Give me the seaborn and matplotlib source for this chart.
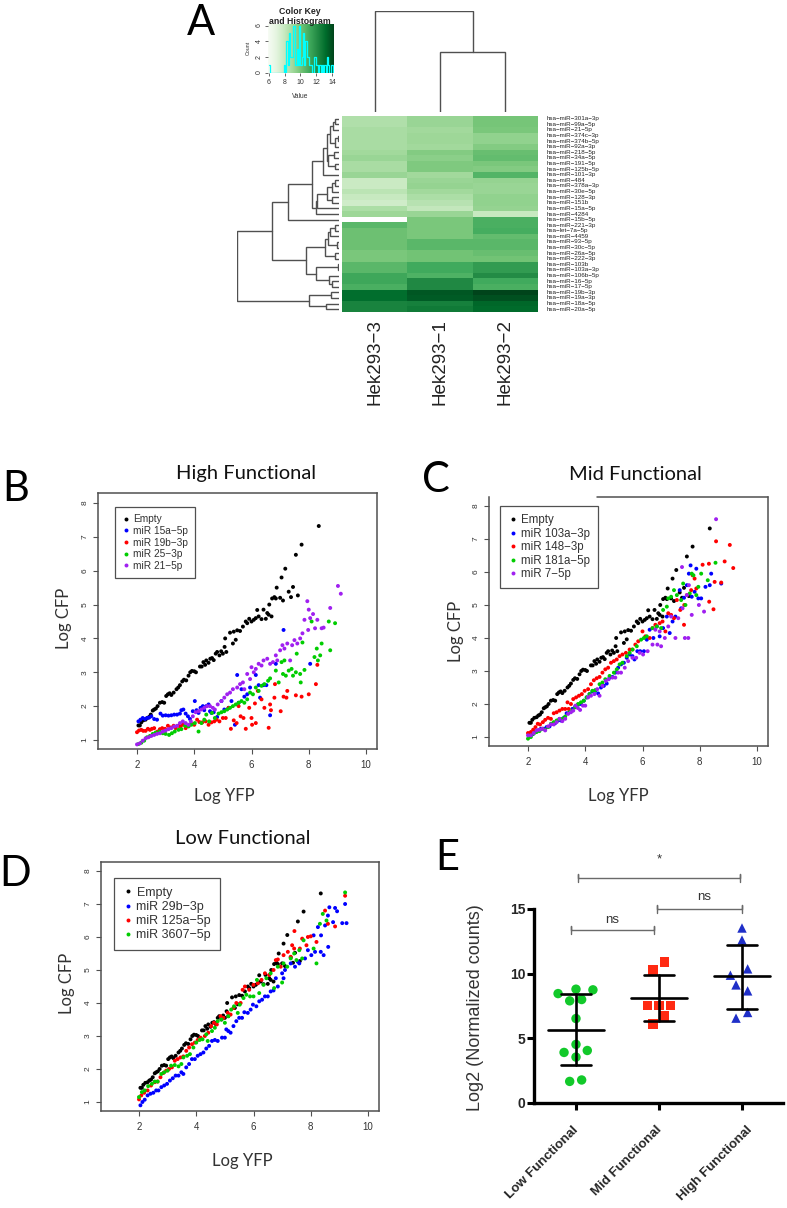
import numpy as np
import pandas as pd
import matplotlib
matplotlib.use("Agg")
import matplotlib.pyplot as plt
from matplotlib.transforms import ScaledTranslation
import seaborn as sns

W, H = 787, 1208

# --- panel A data ---
SAMPLES = ["Hek293\u22123", "Hek293\u22121", "Hek293\u22122"]
MIRNAS = ["miR-301a-3p", "miR-99a-5p", "miR-21-5p", "miR-374c-3p", "miR-374b-5p", "miR-92a-3p", "miR-218-5p",
          "miR-34a-5p", "miR-191-5p", "miR-125b-5p", "miR-101-3p", "miR-484", "miR-378a-3p", "miR-30e-5p",
          "miR-128-3p", "miR-151b", "miR-15a-5p", "miR-4284", "miR-15b-5p", "miR-221-3p", "let-7a-5p",
          "miR-4459", "miR-93-5p", "miR-30c-5p", "miR-26a-5p", "miR-222-3p", "miR-103b", "miR-103a-3p",
          "miR-106b-5p", "miR-16-5p", "miR-17-5p", "miR-19b-3p", "miR-19a-3p", "miR-18a-5p", "miR-20a-5p"]
HEK3 = [8.6, 8.6, 8.8, 8.8, 8.8, 8.8, 9.0, 9.2, 8.8, 8.8, 9.2, 7.9, 7.9, 8.3, 8.0, 7.7, 8.7, 9.1, np.nan, 10.6,
        10.2, 10.2, 10.2, 10.2, 9.9, 9.9, 10.6, 10.6, 11.2, 11.2, 10.9, 13.1, 13.1, 12.4, 12.4]
HEK1 = [9.2, 9.2, 9.0, 9.1, 9.1, 9.0, 9.7, 9.5, 9.8, 9.8, 9.0, 9.2, 9.3, 9.0, 8.7, 8.4, 8.1, 9.2, 9.9, 9.9,
        9.9, 9.9, 10.6, 10.6, 10.1, 10.1, 11.1, 11.1, 10.8, 12.2, 12.2, 13.7, 13.6, 12.5, 12.7]
HEK2 = [10.0, 10.0, 9.9, 9.4, 9.4, 9.7, 10.3, 10.4, 9.9, 9.7, 10.7, 9.3, 9.2, 9.2, 9.4, 9.4, 9.3, 8.0, 10.9, 10.9,
        11.0, 10.4, 10.6, 10.6, 10.3, 10.1, 11.6, 11.6, 12.1, 11.1, 10.9, 14.2, 13.9, 13.3, 13.2]

# dendrograms: (height, left, right), 0 is a leaf
COL_TREE = (101, 0, (60, 0, 0))
ROW_TREE = (102,
            (67,
             (51,
              (27.3,
               (15.7,
                (12.3,
                 (8.7, (5.7, (3.7, 0, 0), 0), (4, (1, 0, 0), 0)),
                 (10.7, (4.7, 0, 0), (3.7, 0, 0))),
                0),
               (23, (22, (12.3, (7.3, (3.7, 0, 0), 0), (7, 0, 0)), 0), 0)),
              0),
             (33,
              (14, (11.5, (9, (4, 0, 0), 0), (2.5, 0, 0)), (4, 0, 0)),
              (23, (1.3, 0, 0), (10, 0, (7.5, 0, 0))))),
            (29.7, (8, 0, 0), (13, 0, 0)))

HIST_LEFT = [6.00, 6.16, 7.92, 8.08, 8.24, 8.40, 8.56, 8.72, 8.88, 9.04, 9.20, 9.36, 9.52, 9.68, 9.84, 10.00, 10.16,
             10.32, 10.48, 10.64, 10.80, 10.96, 11.12, 11.28, 11.44, 11.60, 11.76, 11.92, 12.08, 12.24, 12.40, 12.56,
             12.72, 12.88, 13.04, 13.20, 13.36, 13.52, 13.68, 13.84, 14.00, 14.16]
HIST_COUNT = [1, 0, 1, 0, 4, 1, 5, 2, 2, 6, 6, 1, 3, 1, 6, 1, 2, 5, 1, 4, 2, 2, 1, 1, 0, 0, 2, 1, 1, 0, 1, 0,
              1, 0, 1, 0, 2, 1, 0, 1, 1, 0]

# --- scatter data ---
EMPTY = [(2.05, 1.43), (2.1, 1.43), (2.15, 1.52), (2.22, 1.58), (2.3, 1.6), (2.36, 1.65), (2.42, 1.68), (2.48, 1.75),
         (2.55, 1.87), (2.6, 1.9), (2.66, 1.93), (2.72, 2.0), (2.8, 2.1), (2.88, 2.12), (2.95, 2.1), (3.02, 2.3),
         (3.08, 2.35), (3.14, 2.38), (3.2, 2.33), (3.28, 2.4), (3.38, 2.5), (3.44, 2.55), (3.5, 2.62), (3.58, 2.73),
         (3.64, 2.78), (3.72, 2.76), (3.8, 2.9), (3.86, 3.0), (3.92, 3.04), (4.0, 3.03), (4.06, 3.0), (4.2, 3.17),
         (4.26, 3.17), (4.32, 3.3), (4.38, 3.22), (4.42, 3.35), (4.5, 3.28), (4.56, 3.4), (4.62, 3.42), (4.68, 3.36),
         (4.75, 3.55), (4.8, 3.6), (4.88, 3.5), (4.94, 3.62), (5.0, 3.55), (5.06, 3.75), (5.08, 4.0), (5.12, 3.6),
         (5.25, 4.17), (5.35, 3.85), (5.38, 4.2), (5.45, 3.96), (5.5, 4.24), (5.6, 4.22), (5.7, 4.35), (5.8, 4.5),
         (5.85, 4.45), (5.92, 4.58), (6.0, 4.5), (6.08, 4.55), (6.15, 4.6), (6.2, 4.84), (6.25, 4.65), (6.35, 4.57),
         (6.42, 4.85), (6.5, 4.58), (6.55, 4.75), (6.6, 4.7), (6.7, 4.65), (6.62, 5.0), (6.72, 5.18), (6.8, 5.22),
         (6.85, 5.18), (6.88, 5.5), (7.0, 5.2), (7.05, 5.8), (7.1, 5.12), (7.18, 6.06), (7.3, 5.38), (7.38, 5.22),
         (7.45, 5.52), (7.55, 6.47), (7.62, 5.27), (7.75, 6.77), (8.35, 7.32)]

B_15A = [(2.05, 1.55), (2.12, 1.6), (2.2, 1.65), (2.28, 1.62), (2.35, 1.65), (2.42, 1.66), (2.5, 1.7), (2.6, 1.62),
         (2.7, 1.6), (2.82, 1.78), (2.9, 1.72), (3.0, 1.73), (3.1, 1.72), (3.2, 1.73), (3.3, 1.75), (3.4, 1.75),
         (3.5, 1.78), (3.55, 1.88), (3.62, 1.9), (3.7, 1.78), (3.78, 1.7), (3.85, 1.62), (3.95, 1.85), (4.02, 2.15),
         (4.08, 1.88), (4.15, 1.8), (4.22, 1.95), (4.3, 2.0), (4.35, 1.88), (4.42, 2.0), (4.5, 2.05), (4.55, 1.85),
         (4.6, 1.8), (4.68, 1.82), (4.8, 1.68), (4.95, 2.15), (5.05, 1.9), (5.2, 1.95), (5.3, 2.15), (5.42, 1.45),
         (5.5, 2.92), (5.55, 2.1), (5.65, 2.5), (5.75, 2.28), (5.85, 2.35), (5.95, 2.55), (6.15, 2.92), (6.25, 2.62),
         (6.3, 2.25), (6.42, 2.62), (6.52, 2.62), (6.65, 1.73), (6.85, 3.25), (7.12, 4.25), (8.05, 3.25)]
B_19B = [(2.0, 1.23), (2.07, 1.28), (2.15, 1.3), (2.22, 1.27), (2.3, 1.27), (2.38, 1.33), (2.45, 1.3), (2.52, 1.33),
         (2.6, 1.35), (2.72, 1.25), (2.8, 1.32), (2.88, 1.35), (2.98, 1.33), (3.08, 1.42), (3.18, 1.37), (3.28, 1.42),
         (3.35, 1.35), (3.45, 1.42), (3.52, 1.4), (3.6, 1.45), (3.7, 1.35), (3.8, 1.42), (3.9, 1.48), (4.0, 1.45),
         (4.1, 1.6), (4.18, 1.53), (4.28, 1.52), (4.4, 1.55), (4.5, 1.45), (4.6, 1.52), (4.7, 1.55), (4.78, 1.6),
         (4.88, 1.55), (5.0, 1.65), (5.1, 1.65), (5.2, 1.95), (5.28, 1.33), (5.38, 1.58), (5.48, 1.5), (5.55, 2.0),
         (5.62, 1.7), (5.72, 1.65), (5.8, 1.33), (5.92, 1.95), (6.0, 1.65), (6.02, 1.45), (6.15, 1.5), (6.12, 2.08),
         (6.22, 2.45), (6.35, 2.2), (6.45, 1.95), (6.6, 1.36), (6.65, 2.05), (6.68, 1.88), (6.8, 2.25), (6.82, 2.65),
         (7.02, 1.85), (7.12, 2.28), (7.22, 2.25), (7.25, 2.45), (7.55, 2.32), (7.75, 2.28), (8.0, 2.35), (8.25, 2.65),
         (8.3, 3.22)]
B_25 = [(2.05, 0.88), (2.15, 0.92), (2.25, 0.98), (2.35, 1.08), (2.45, 1.12), (2.55, 1.18), (2.65, 1.22), (2.78, 1.25),
        (2.9, 1.2), (3.0, 1.18), (3.12, 1.15), (3.22, 1.2), (3.32, 1.25), (3.45, 1.3), (3.55, 1.32), (3.68, 1.42),
        (3.8, 1.4), (3.9, 1.45), (4.02, 1.5), (4.15, 1.25), (4.25, 1.5), (4.35, 1.6), (4.42, 1.75), (4.52, 1.55),
        (4.62, 1.8), (4.72, 1.65), (4.85, 1.78), (4.95, 1.82), (5.05, 1.85), (5.15, 1.9), (5.25, 1.95), (5.35, 2.0),
        (5.45, 2.05), (5.55, 2.1), (5.65, 2.15), (5.75, 2.1), (5.85, 2.2), (5.95, 2.4), (6.05, 2.35), (6.15, 2.55),
        (6.25, 2.45), (6.35, 2.6), (6.45, 2.65), (6.58, 2.75), (6.65, 2.82), (6.85, 3.05), (6.95, 2.7), (7.05, 3.3),
        (7.1, 2.95), (7.15, 3.35), (7.2, 2.9), (7.3, 3.05), (7.4, 3.1), (7.45, 2.9), (7.55, 3.0), (7.58, 3.55),
        (7.7, 2.95), (7.72, 2.7), (7.78, 3.88), (7.85, 3.07), (8.1, 4.5), (8.2, 3.45), (8.28, 3.7), (8.32, 3.35),
        (8.4, 3.5), (8.45, 3.85), (8.7, 4.5), (8.75, 3.65), (8.92, 4.45)]
B_21 = [(2.0, 0.87), (2.1, 0.9), (2.2, 0.98), (2.3, 1.05), (2.4, 1.08), (2.5, 1.12), (2.6, 1.15), (2.7, 1.18),
        (2.8, 1.2), (2.9, 1.25), (3.0, 1.28), (3.1, 1.32), (3.2, 1.35), (3.3, 1.4), (3.4, 1.42), (3.5, 1.5),
        (3.6, 1.55), (3.7, 1.5), (3.8, 1.45), (3.88, 1.55), (3.95, 1.7), (4.05, 1.82), (4.15, 1.85), (4.25, 1.9),
        (4.35, 1.95), (4.45, 2.0), (4.55, 2.0), (4.65, 1.95), (4.72, 1.9), (4.82, 2.05), (4.95, 2.15), (5.05, 2.25),
        (5.15, 2.35), (5.25, 2.4), (5.35, 2.5), (5.5, 2.55), (5.6, 2.65), (5.7, 2.7), (5.75, 2.5), (5.85, 2.95),
        (5.95, 2.8), (6.0, 3.15), (6.08, 3.0), (6.15, 3.1), (6.25, 3.25), (6.35, 3.2), (6.42, 3.35), (6.55, 3.4),
        (6.65, 3.25), (6.75, 3.3), (6.85, 3.5), (6.9, 3.35), (7.0, 3.65), (7.08, 3.8), (7.15, 3.7), (7.25, 3.85),
        (7.35, 3.35), (7.42, 3.8), (7.5, 3.95), (7.6, 3.85), (7.7, 4.0), (7.78, 4.15), (7.85, 4.55), (7.95, 5.1),
        (7.98, 4.25), (8.0, 4.85), (8.05, 4.6), (8.15, 4.72), (8.22, 4.3), (8.3, 4.55), (8.45, 4.3), (8.52, 4.32),
        (8.75, 4.9), (9.02, 5.55), (9.12, 5.32)]

C_103A = [(2.05, 1.05), (2.15, 1.08), (2.25, 1.15), (2.35, 1.2), (2.45, 1.25), (2.55, 1.25), (2.65, 1.3), (2.75, 1.32),
          (2.85, 1.4), (2.95, 1.42), (3.05, 1.5), (3.15, 1.5), (3.25, 1.58), (3.35, 1.72), (3.45, 1.75), (3.55, 1.85),
          (3.65, 1.92), (3.75, 1.98), (3.85, 2.0), (3.95, 2.1), (4.05, 2.2), (4.15, 2.3), (4.25, 2.38), (4.35, 2.4),
          (4.45, 2.32), (4.55, 2.5), (4.65, 2.55), (4.75, 2.62), (4.85, 2.8), (4.95, 2.82), (5.05, 2.95), (5.15, 3.1),
          (5.25, 3.2), (5.35, 3.25), (5.45, 3.4), (5.55, 3.5), (5.65, 3.45), (5.72, 3.35), (5.82, 3.6), (5.92, 3.6),
          (6.05, 3.6), (6.15, 3.95), (6.25, 4.25), (6.38, 4.0), (6.5, 4.35), (6.6, 4.05), (6.72, 4.3), (6.85, 4.65),
          (6.95, 4.15), (7.05, 4.5), (7.15, 4.65), (7.3, 5.45), (7.35, 4.9), (7.45, 5.22), (7.55, 5.6), (7.62, 5.95),
          (7.68, 6.2), (7.72, 5.25), (7.82, 5.4), (7.88, 6.1), (7.95, 5.2), (8.05, 5.2), (8.2, 5.55), (8.35, 5.6),
          (8.4, 5.95), (8.75, 5.65)]
C_148 = [(2.0, 1.12), (2.1, 1.15), (2.18, 1.22), (2.26, 1.3), (2.34, 1.4), (2.42, 1.38), (2.52, 1.45), (2.6, 1.52),
         (2.7, 1.58), (2.8, 1.55), (2.9, 1.72), (3.0, 1.75), (3.1, 1.8), (3.2, 1.85), (3.3, 1.85), (3.38, 2.05),
         (3.42, 1.85), (3.5, 2.0), (3.58, 2.15), (3.68, 2.2), (3.78, 2.25), (3.88, 2.3), (3.98, 2.4), (4.1, 2.45),
         (4.2, 2.6), (4.3, 2.72), (4.4, 2.78), (4.5, 2.82), (4.6, 2.95), (4.7, 3.05), (4.8, 3.1), (4.9, 3.25),
         (5.0, 3.3), (5.1, 3.35), (5.2, 3.45), (5.3, 3.5), (5.42, 3.55), (5.55, 3.65), (5.65, 3.65), (5.75, 3.8),
         (5.85, 3.9), (6.0, 4.2), (6.1, 4.05), (6.25, 4.0), (6.35, 4.3), (6.45, 4.4), (6.6, 4.45), (6.7, 4.5),
         (6.8, 4.2), (6.9, 4.75), (7.0, 4.7), (7.1, 4.6), (7.2, 5.15), (7.32, 4.85), (7.45, 4.4), (7.46, 5.0),
         (7.55, 5.3), (7.7, 5.45), (7.75, 5.9), (7.82, 5.8), (7.88, 5.5), (8.1, 6.22), (8.32, 6.25), (8.33, 5.1),
         (8.48, 4.87), (8.52, 5.7), (8.57, 6.93), (8.75, 5.68), (8.87, 6.32), (9.05, 6.82), (9.17, 6.12)]
C_181 = [(2.0, 0.95), (2.1, 1.0), (2.2, 1.1), (2.3, 1.15), (2.4, 1.18), (2.5, 1.25), (2.6, 1.22), (2.7, 1.3),
         (2.8, 1.4), (2.9, 1.45), (3.0, 1.5), (3.1, 1.55), (3.2, 1.55), (3.3, 1.62), (3.45, 1.75), (3.55, 1.8),
         (3.65, 1.9), (3.75, 2.0), (3.85, 2.05), (3.95, 2.1), (4.05, 2.2), (4.15, 2.3), (4.25, 2.4), (4.35, 2.42),
         (4.5, 2.6), (4.6, 2.65), (4.7, 2.75), (4.85, 2.85), (5.0, 2.95), (5.1, 3.05), (5.2, 3.2), (5.3, 3.25),
         (5.45, 3.45), (5.55, 3.55), (5.65, 3.65), (5.8, 3.75), (5.95, 3.95), (6.05, 4.0), (6.15, 4.05), (6.35, 4.3),
         (6.5, 4.35), (6.65, 4.3), (6.72, 4.85), (6.85, 4.95), (6.9, 5.2), (7.0, 5.25), (7.1, 5.45), (7.2, 5.3),
         (7.35, 5.15), (7.42, 5.65), (7.5, 5.0), (7.65, 5.35), (7.72, 5.95), (7.78, 5.9), (7.88, 5.3), (7.95, 5.55),
         (8.05, 5.95), (8.28, 5.75), (8.55, 6.28)]
C_7 = [(2.0, 1.05), (2.1, 1.05), (2.2, 1.12), (2.3, 1.2), (2.4, 1.22), (2.5, 1.25), (2.6, 1.2), (2.7, 1.32),
       (2.8, 1.38), (2.9, 1.38), (3.0, 1.45), (3.1, 1.55), (3.2, 1.48), (3.3, 1.55), (3.4, 1.7), (3.5, 1.75),
       (3.58, 1.8), (3.66, 1.95), (3.74, 1.88), (3.82, 1.82), (3.92, 1.95), (4.0, 1.95), (4.1, 2.2), (4.2, 2.25),
       (4.32, 2.3), (4.42, 2.45), (4.5, 2.25), (4.6, 2.55), (4.72, 2.7), (4.82, 2.75), (4.95, 2.8), (5.05, 2.8),
       (5.15, 2.95), (5.25, 2.95), (5.38, 3.1), (5.5, 3.3), (5.65, 3.4), (5.78, 3.4), (5.9, 3.55), (6.02, 3.5),
       (6.18, 3.6), (6.35, 3.8), (6.52, 3.8), (6.65, 3.75), (6.45, 4.25), (6.6, 4.2), (6.78, 4.0), (6.9, 4.35),
       (7.0, 4.65), (7.15, 4.0), (7.25, 4.6), (7.4, 4.9), (7.48, 4.0), (7.55, 5.3), (7.6, 4.0), (7.62, 5.6),
       (7.38, 6.15), (7.72, 4.7), (7.97, 5.0), (8.15, 4.8), (8.57, 7.6)]

D_29B = [(2.05, 0.9), (2.12, 1.0), (2.2, 1.07), (2.3, 1.2), (2.4, 1.25), (2.5, 1.28), (2.6, 1.35), (2.68, 1.35),
         (2.78, 1.45), (2.88, 1.5), (2.98, 1.55), (3.08, 1.65), (3.18, 1.72), (3.28, 1.8), (3.38, 1.8), (3.48, 1.9),
         (3.55, 1.85), (3.65, 2.05), (3.75, 2.15), (3.85, 2.3), (3.95, 2.3), (4.05, 2.4), (4.15, 2.45), (4.25, 2.5),
         (4.35, 2.62), (4.45, 2.7), (4.55, 2.85), (4.65, 2.88), (4.75, 2.85), (4.9, 2.95), (5.0, 2.95), (5.05, 3.2),
         (5.12, 3.15), (5.2, 3.1), (5.3, 3.3), (5.4, 3.45), (5.5, 3.55), (5.6, 3.55), (5.68, 3.72), (5.8, 3.7),
         (5.9, 3.8), (5.98, 3.95), (6.1, 3.9), (6.2, 4.05), (6.3, 4.1), (6.4, 4.2), (6.5, 4.2), (6.6, 4.35),
         (6.7, 4.38), (6.78, 4.75), (6.85, 4.5), (7.0, 4.9), (7.05, 4.75), (7.1, 5.0), (7.3, 5.2), (7.45, 5.1),
         (7.55, 5.25), (7.6, 5.2), (7.8, 5.35), (7.9, 5.6), (8.02, 5.45), (8.1, 6.05), (8.15, 5.55), (8.25, 6.3),
         (8.35, 5.55), (8.36, 6.05), (8.45, 5.45), (8.5, 6.35), (8.6, 6.65), (8.61, 5.7), (8.65, 6.9), (8.78, 6.45),
         (8.85, 6.88), (8.92, 6.78), (9.1, 6.42), (9.2, 7.0), (9.25, 6.42)]
D_125A = [(2.0, 1.08), (2.08, 1.2), (2.18, 1.28), (2.3, 1.35), (2.42, 1.5), (2.55, 1.6), (2.65, 1.62), (2.75, 1.75),
          (2.85, 1.88), (2.95, 1.95), (3.05, 2.0), (3.15, 2.05), (3.25, 2.25), (3.35, 2.3), (3.45, 2.35), (3.55, 2.38),
          (3.65, 2.55), (3.75, 2.65), (3.85, 2.75), (3.95, 2.8), (4.05, 2.88), (4.15, 2.95), (4.3, 3.0), (4.42, 3.1),
          (4.52, 3.3), (4.62, 3.4), (4.72, 3.35), (4.85, 3.6), (4.95, 3.55), (5.1, 3.7), (5.2, 3.65), (5.3, 3.85),
          (5.4, 4.0), (5.55, 4.0), (5.62, 4.4), (5.7, 4.5), (5.85, 4.4), (6.0, 4.55), (6.15, 4.6), (6.28, 4.7),
          (6.4, 4.9), (6.55, 4.85), (6.7, 5.0), (6.78, 5.3), (6.85, 5.32), (6.95, 5.1), (7.05, 5.45), (7.2, 5.55),
          (7.3, 5.4), (7.35, 5.75), (7.42, 5.65), (7.43, 6.18), (7.62, 5.65), (7.7, 5.95), (7.85, 5.75), (7.9, 6.0),
          (8.0, 6.02), (8.2, 5.85), (8.5, 6.8), (8.6, 6.4), (8.85, 6.32), (9.2, 7.25)]
D_3607 = [(2.0, 1.15), (2.1, 1.3), (2.2, 1.35), (2.32, 1.48), (2.45, 1.55), (2.55, 1.62), (2.65, 1.62), (2.78, 1.85),
          (2.88, 1.9), (3.0, 1.95), (3.12, 2.1), (3.25, 2.12), (3.38, 2.08), (3.48, 2.15), (3.55, 2.35), (3.68, 2.4),
          (3.78, 2.45), (3.9, 2.65), (4.0, 2.8), (4.12, 2.88), (4.22, 2.9), (4.35, 3.05), (4.4, 2.85), (4.55, 3.15),
          (4.65, 3.25), (4.75, 3.45), (4.88, 3.5), (5.0, 3.4), (5.12, 3.6), (5.22, 3.8), (5.32, 3.9), (5.45, 3.7),
          (5.52, 3.95), (5.65, 4.15), (5.75, 4.25), (5.88, 4.2), (6.0, 4.2), (6.12, 4.7), (6.2, 4.3), (6.35, 4.55),
          (6.45, 4.75), (6.6, 4.9), (6.72, 4.45), (6.85, 5.1), (7.0, 4.62), (7.05, 5.2), (7.18, 5.1), (7.3, 5.35),
          (7.42, 5.5), (7.5, 5.3), (7.6, 5.6), (7.7, 5.35), (7.75, 5.9), (8.1, 5.65), (8.2, 5.2), (8.32, 6.4),
          (8.42, 6.7), (8.55, 6.5), (9.2, 7.35)]

# --- panel E data ---
GROUPS = ["Low Functional", "Mid Functional", "High Functional"]
LOW_OFFSET = [-0.216, 0, 0.204, -0.076, 0.068, 0, 0, -0.144, 0.136, 0, -0.076, 0.068]
LOW_VALUES = [8.46, 8.8, 8.75, 7.9, 8.0, 6.53, 4.53, 3.91, 4.06, 3.55, 1.67, 1.78]
MID_OFFSET = [-0.072, 0.064, -0.14, 0, 0.136, 0.064, -0.072]
MID_VALUES = [10.29, 10.9, 7.56, 7.56, 7.56, 6.74, 6.12]
HIGH_OFFSET = [0, 0, 0.068, -0.14, -0.072, 0.068, 0.068, -0.072]
HIGH_VALUES = [13.53, 12.6, 10.37, 9.88, 9.13, 8.67, 7.0, 6.56]
MEANS = [5.66, 8.1, 9.8]
UPPER = [8.39, 9.88, 12.25]
LOWER = [2.96, 6.33, 7.3]

R_COLORS = ["black", "#0000ff", "#ff0000", "#00cd00", "#a020f0"]
GRAY = "#505050"
TEXT_FONT = "Lato"

sns.set_style("white")
plt.rcParams["font.family"] = ["Liberation Sans", "DejaVu Sans"]


def px_axes(fig, left, top, right, bottom):
    return fig.add_axes([left / W, 1 - bottom / H, (right - left) / W, (bottom - top) / H])


def fig_text(fig, x, y, s, **kw):
    fig.text(x / W, 1 - y / H, s, ha="center", va="center", **kw)


def draw_tree(ax, node, counter, horizontal):
    # returns leaf position and height of a node, drawing its bracket
    if node == 0:
        counter[0] += 1
        return counter[0] - 0.5, 0
    h, left, right = node
    p1, h1 = draw_tree(ax, left, counter, horizontal)
    p2, h2 = draw_tree(ax, right, counter, horizontal)
    pos = [p1, p1, p2, p2]
    hts = [h1, h, h, h2]
    if horizontal:
        ax.plot(hts, pos, color=GRAY, lw=1, solid_joinstyle="miter")
    else:
        ax.plot(pos, hts, color=GRAY, lw=1, solid_joinstyle="miter")
    return (p1 + p2) / 2, h


def scatter_panel(fig, rect, x2, x10, y1, y8, series, labels, legend_box, legend_size, spacing):
    left, top, right, bottom = rect
    ax = px_axes(fig, left, top, right, bottom)
    frames = [pd.DataFrame(s, columns=["yfp", "cfp"]).assign(mir=lab) for s, lab in zip(series, labels)]
    df = pd.concat(frames, ignore_index=True)
    sns.scatterplot(data=df, x="yfp", y="cfp", hue="mir", hue_order=labels,
                    palette=R_COLORS[:len(labels)], s=8, linewidth=0, ax=ax, clip_on=False)
    xs = (x10 - x2) / 8
    ys = (y1 - y8) / 7
    ax.set_xlim(2 - (x2 - left) / xs, 10 + (right - x10) / xs)
    ax.set_ylim(1 - (bottom - y1) / ys, 8 + (y8 - top) / ys)
    ax.set_xticks([2, 4, 6, 8, 10])
    ax.set_yticks(range(1, 9))
    ax.tick_params(axis="x", length=3.6, width=0.8, color=GRAY, labelcolor="#333333", labelsize=7, pad=4, bottom=True)
    ax.tick_params(axis="y", length=3.6, width=0.8, color=GRAY, labelcolor="#333333", labelsize=6, pad=3, left=True,
                   labelrotation=90)
    for label in ax.get_yticklabels():
        label.set_va("center")
    ax.set_xlabel("")
    ax.set_ylabel("")
    for spine in ax.spines.values():
        spine.set_color(GRAY)
        spine.set_linewidth(1.1)
    lx0, ly0 = legend_box
    sns.move_legend(ax, "upper left", bbox_to_anchor=((lx0 - left) / (right - left), 1 - (ly0 - top) / (bottom - top)),
                    title=None, frameon=True, fancybox=False, framealpha=1, edgecolor=GRAY, borderaxespad=0,
                    fontsize=legend_size, labelspacing=spacing, handlelength=0.8, handletextpad=0.3, borderpad=0.7,
                    labelcolor="#333333")
    ax.get_legend().get_frame().set_linewidth(0.9)
    return ax


fig = plt.figure(figsize=(W / 100, H / 100), dpi=100)

# panel A: heatmap
heat_df = pd.DataFrame({SAMPLES[0]: HEK3, SAMPLES[1]: HEK1, SAMPLES[2]: HEK2},
                       index=["hsa\u2212" + m.replace("-", "\u2212") for m in MIRNAS])
ax_heat = px_axes(fig, 342, 116, 538, 312)
sns.heatmap(heat_df, cmap="Greens", vmin=5.9, vmax=14.2, cbar=False, ax=ax_heat, linewidths=0,
            xticklabels=True, yticklabels=True, rasterized=True)
ax_heat.tick_params(axis="both", length=0)
ax_heat.yaxis.tick_right()
ax_heat.set_yticklabels(heat_df.index, rotation=0, fontsize=4.5, color="#222222", va="center")
ax_heat.tick_params(axis="y", pad=6)
ax_heat.set_xticklabels(SAMPLES, rotation=90, fontsize=13.5, color="#222222")
ax_heat.tick_params(axis="x", pad=5)

ax_top = px_axes(fig, 342, 11, 538, 112)
draw_tree(ax_top, COL_TREE, [0], False)
ax_top.set_xlim(0, 3)
ax_top.set_ylim(0, 101)
ax_top.axis("off")

ax_left = px_axes(fig, 237, 116, 339, 312)
draw_tree(ax_left, ROW_TREE, [0], True)
ax_left.set_xlim(102, 0)
ax_left.set_ylim(35, 0)
ax_left.axis("off")

# color key with histogram
ax_key = px_axes(fig, 268, 24, 334, 73)
ax_key.imshow(np.linspace(0, 1, 256).reshape(1, -1), aspect="auto", cmap="Greens", extent=(5.9, 14.25, -0.03, 6.2))
hist_df = pd.DataFrame({"value": HIST_LEFT, "count": HIST_COUNT})
sns.lineplot(data=hist_df, x="value", y="count", drawstyle="steps-post", color="cyan", lw=0.9,
             estimator=None, ax=ax_key)
ax_key.set_xlim(5.9, 14.25)
ax_key.set_ylim(-0.03, 6.2)
ax_key.set_xticks([6, 8, 10, 12, 14])
ax_key.set_yticks([0, 2, 4, 6])
ax_key.tick_params(axis="x", length=2.5, width=0.6, labelsize=5, pad=2, bottom=True, color=GRAY, labelcolor="#333333")
ax_key.tick_params(axis="y", length=2.5, width=0.6, labelsize=5, pad=1.5, left=True, color=GRAY,
                   labelrotation=90, labelcolor="#333333")
ax_key.set_xlabel("")
ax_key.set_ylabel("")
for spine in ax_key.spines.values():
    spine.set_visible(False)
fig_text(fig, 300, 11, "Color Key", fontsize=6.3, fontweight="bold", color="#222222")
fig_text(fig, 300, 21, "and Histogram", fontsize=6.3, fontweight="bold", color="#222222")
fig_text(fig, 248, 48, "Count", fontsize=3.8, rotation=90, color="#333333")
fig_text(fig, 300, 97, "Value", fontsize=4.8, color="#333333")

# panels B, C, D
ax_b = scatter_panel(fig, (98, 493, 377, 749), 137, 366, 740, 503, [EMPTY, B_15A, B_19B, B_25, B_21],
                     ["Empty", "miR 15a\u22125p", "miR 19b\u22123p", "miR 25\u22123p", "miR 21\u22125p"],
                     (115, 507), 7.3, 0.17)
ax_c = scatter_panel(fig, (489, 497, 768, 746), 528, 757, 737, 506, [EMPTY, C_103A, C_148, C_181, C_7],
                     ["Empty", "miR 103a\u22123p", "miR 148\u22123p", "miR 181a\u22125p", "miR 7\u22125p"],
                     (500, 506), 8.3, 0.13)
ax_c.spines["top"].set_visible(False)
ax_c.plot([0.387, 1], [1, 1], transform=ax_c.transAxes, color=GRAY, lw=1.1, clip_on=False)
ax_d = scatter_panel(fig, (101, 862, 379, 1111), 139, 368, 1102, 871, [EMPTY, D_29B, D_125A, D_3607],
                     ["Empty", "miR 29b\u22123p", "miR 125a\u22125p", "miR 3607\u22125p"],
                     (114, 878), 9, 0.18)

for x, y, s in [(246, 474, "High Functional"), (635, 475, "Mid Functional"), (243, 839, "Low Functional")]:
    fig_text(fig, x, y, s, fontsize=14.5, family=TEXT_FONT, color="#111111")
for x, y in [(224, 796), (618, 796), (242, 1161)]:
    fig_text(fig, x, y, "Log YFP", fontsize=12, family=TEXT_FONT, color="#333333")
for x, y in [(64, 618), (456, 631), (67, 983)]:
    fig_text(fig, x, y, "Log CFP", fontsize=12, family=TEXT_FONT, color="#333333", rotation=90)

# panel E
ax_e = px_axes(fig, 534, 909, 783, 1103)
offsets = [LOW_OFFSET, MID_OFFSET, HIGH_OFFSET]
values = [LOW_VALUES, MID_VALUES, HIGH_VALUES]
rows = []
for i, group in enumerate(GROUPS):
    rows.append(pd.DataFrame({"pos": np.array(offsets[i]) + i, "value": values[i], "group": group}))
dots = pd.concat(rows, ignore_index=True)
sns.scatterplot(data=dots, x="pos", y="value", hue="group", style="group", hue_order=GROUPS, style_order=GROUPS,
                palette=["#12c92a", "#ff2a12", "#1f2fc8"], markers=["o", "s", "^"], s=46, linewidth=0,
                legend=False, ax=ax_e, clip_on=False)
for i in range(3):
    ax_e.plot([i, i], [LOWER[i], UPPER[i]], color="black", lw=1.9)
    ax_e.plot([i - 0.336, i + 0.336], [MEANS[i], MEANS[i]], color="black", lw=1.9)
    ax_e.plot([i - 0.176, i + 0.176], [UPPER[i], UPPER[i]], color="black", lw=1.9)
    ax_e.plot([i - 0.176, i + 0.176], [LOWER[i], LOWER[i]], color="black", lw=1.9)
ax_e.set_xlim(-0.506, 2.494)
ax_e.set_ylim(0, 15)
ax_e.set_xticks(range(3))
ax_e.set_yticks([0, 5, 10, 15])
ax_e.set_xticklabels(GROUPS, rotation=45, ha="right", rotation_mode="anchor", fontweight="bold", fontsize=9.5)
ax_e.tick_params(axis="x", length=5, width=2.2, color="black", pad=10, bottom=True)
ax_e.tick_params(axis="y", length=5, width=2.2, color="black", pad=1, left=True, labelsize=10)
for label, dx in zip(ax_e.get_xticklabels(), [-4, -3, 4]):
    label.set_transform(label.get_transform() + ScaledTranslation(dx / 100, 0, fig.dpi_scale_trans))
for label in ax_e.get_yticklabels():
    label.set_fontweight("bold")
ax_e.set_xlabel("")
ax_e.set_ylabel("")
sns.despine(ax=ax_e)
ax_e.spines["left"].set_linewidth(2.4)
ax_e.spines["bottom"].set_linewidth(2.4)
ax_e.spines["left"].set_color("black")
ax_e.spines["bottom"].set_color("black")
for x0, x1, y, tx, ty, s in [(0.03, 1.97, 17.4, 1.0, 18.85, "*"), (0.976, 2.0, 15.0, 1.55, 15.9, "ns"),
                             (-0.056, 0.94, 13.38, 0.43, 14.15, "ns")]:
    ax_e.plot([x0, x0, x0, x1, x1, x1], [y - 0.32, y + 0.32, y, y, y + 0.32, y - 0.32], color="#6a6a6a", lw=1,
              clip_on=False)
    ax_e.text(tx, ty, s, ha="center", va="center", fontsize=9.5, color="#333333", clip_on=False)
fig_text(fig, 476, 1008, "Log2 (Normalized counts)", fontsize=13, rotation=90, color="#333333")

# panel letters
for x, y, s in [(201, 23, "A"), (16, 489, "B"), (436, 480, "C"), (15, 874, "D"), (447, 858, "E")]:
    fig_text(fig, x, y, s, fontsize=30, family=TEXT_FONT, color="black")

fig.savefig("out.png", dpi=100)
